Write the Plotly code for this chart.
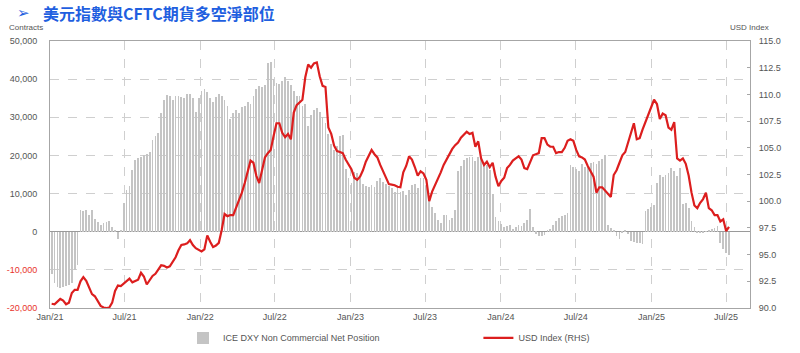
import pandas as pd
import plotly.graph_objects as go

# weekly dates (COT reports)
dates = pd.date_range("2021-01-05", periods=236, freq="7D")

net_position = [
    -11000, -13500, -14500, -14800, -14500, -14300, -14000, -13500, -10000, -8600,
    5800, 5400, 5800, 4300, 5800, 3300, 2600, 1800, 2200, 2500,
    2700, 1200, 500, -2000, 200, 7600, 11000, 12000, 16300, 18800,
    19300, 19500, 20000, 20500, 21000, 24000, 25000, 26000, 31000, 34500,
    35800, 35500, 34500, 35500, 35500, 35300, 35000, 36000, 36000, 35000,
    31300, 35000, 37000, 37500, 36500, 35000, 34000, 35300, 36000, 35500,
    34500, 33000, 29600, 31000, 32000, 31000, 32600, 33000, 34000, 33500,
    35500, 37300, 38300, 37900, 38500, 44200, 44600, 40000, 38900, 38800,
    39500, 40500, 39500, 38500, 37000, 35500, 35500, 33000, 33500, 27800,
    30500, 32000, 32500, 31500, 30000, 28500, 25500, 23000, 21500, 22500,
    25000, 25300, 16500, 14000, 12700, 15700, 15300, 14000, 12500, 12000,
    11800, 12300, 11800, 13200, 14000, 13000, 12500, 12000, 11400, 10500,
    11800, 10500, 10800, 9500, 11000, 12300, 12500, 11500, 14200, 14000,
    12000, 9200, 6600, 5000, 3000, 2200, 4500, 4400, 3100, 3500,
    5700, 15800, 17300, 18700, 19200, 19600, 19600, 18500, 19500, 19000,
    18000, 17500, 16200, 10000, 3800, 2800, 2000, 1200, 1400, 1800,
    600, 1200, 1800, 1400, 2200, 3000, 6000, 1200, -500, -1200,
    -1200, -800, 400, 600, 1700, 2700, 3600, 4000, 4500, 5000,
    17600, 17000, 16500, 16000, 17800, 17000, 17000, 18000, 18200, 17800,
    18500, 19000, 20000, 1700, 900, 300, -1100, -2000, -300, 300,
    -700, -2400, -2800, -2900, -3000, -3300, 5500, 5900, 6500, 7000,
    12900, 14800, 14300, 14800, 15300, 16600, 16000, 14600, 16700, 7200,
    7500, 6200, 2800, 1200, -400, -400, -300, 100, 300, 600,
    1000, 1500, -2900, -4600, -5500, -6000,
]

usd_index = [
    90.4, 90.35, 90.6, 90.85, 90.7, 90.35, 90.5, 91.4, 91.7, 91.7,
    92.5, 92.9, 92.55, 91.9, 91.3, 91.1, 90.6, 90.2, 90.05, 90.0,
    90.05, 90.5, 91.6, 92.1, 92.05, 92.3, 92.55, 92.75, 92.4, 92.5,
    92.65, 93.3, 92.95, 92.2, 92.55, 93.0, 93.2, 93.6, 94.0, 93.95,
    93.8, 93.9, 94.3, 94.75, 95.4, 95.9, 95.95, 96.05, 96.35, 95.9,
    95.6, 95.45, 95.3, 95.5, 96.8, 96.2, 95.7, 95.85, 96.1, 97.3,
    98.8, 98.6, 98.7, 98.7, 99.4, 100.1, 100.8, 101.7, 102.9, 103.8,
    103.6, 102.4, 101.7, 103.0, 104.1, 104.5, 104.8, 106.1, 107.3, 107.3,
    106.4, 106.0, 106.3, 105.8, 108.3, 109.0, 109.3, 109.5, 111.6, 112.8,
    112.5, 112.9, 113.0, 111.7, 110.8, 110.7, 106.9, 106.3, 105.2, 104.7,
    104.6, 104.5, 103.9, 103.4, 103.0, 102.2, 102.0, 102.3, 102.9, 103.7,
    104.3, 104.8, 104.4, 104.1, 103.4, 102.8, 102.2, 101.6, 101.55, 101.5,
    101.35, 101.3, 102.7, 103.3, 104.2, 103.9, 103.2, 102.4, 102.8, 102.6,
    102.0, 100.0, 100.9, 101.5, 102.0, 102.7, 103.4, 103.95, 104.4, 104.9,
    105.25, 105.5, 105.95, 106.2, 106.5, 106.3, 106.4, 105.1, 105.6, 104.0,
    103.4, 103.7, 103.2, 103.6, 102.3, 101.4, 101.9, 102.2, 103.1, 103.4,
    103.8, 104.0, 104.2, 103.9, 103.1, 103.0, 103.7, 104.3, 104.4, 104.5,
    105.9, 105.9, 105.3, 105.1, 105.1, 104.5, 104.6, 104.6, 105.0, 105.65,
    105.8, 105.65, 104.8, 104.2, 104.1, 103.9, 103.3, 102.8, 102.3, 100.8,
    101.3, 101.3, 101.0, 100.8, 100.4, 102.45, 102.9, 103.6, 104.3, 104.6,
    105.5, 106.5, 107.3, 105.8, 105.9, 106.7, 107.4, 108.1, 108.7, 109.5,
    109.1, 107.7, 108.2, 108.05, 106.9, 106.7, 107.4, 104.0, 103.8, 104.0,
    103.5, 102.4, 100.8, 99.6, 99.35, 99.85, 100.2, 100.8, 99.35, 99.15,
    98.7, 98.7, 98.1, 98.3, 97.2, 97.6,
]

x_tick_vals = ["2021-01-01", "2021-07-01", "2022-01-01", "2022-07-01", "2023-01-01",
               "2023-07-01", "2024-01-01", "2024-07-01", "2025-01-01", "2025-07-01"]
x_tick_text = ["Jan/21", "Jul/21", "Jan/22", "Jul/22", "Jan/23",
               "Jul/23", "Jan/24", "Jul/24", "Jan/25", "Jul/25"]
left_tick_vals = [-20000, -10000, 0, 10000, 20000, 30000, 40000, 50000]
right_tick_vals = [90, 92.5, 95, 97.5, 100, 102.5, 105, 107.5, 110, 112.5, 115]

def fmt_left(v):
    s = f"{v:,}"
    if v < 0:
        return f'<span style="color:#e8332c">{s}</span>'
    return s

left_tick_text = [fmt_left(v) for v in left_tick_vals]

FONT = "Liberation Sans"
GRAY = "#555555"

fig = go.Figure()
fig.add_trace(go.Bar(
    x=dates, y=net_position, name="ICE DXY Non Commercial Net Position",
    marker=dict(color="#c4c4c4", line=dict(width=0)),
    width=1.9 * 86400000, yaxis="y", legend="legend",
))
fig.add_trace(go.Scatter(
    x=dates, y=usd_index, name="USD Index (RHS)", mode="lines",
    line=dict(color="#dc1e1e", width=2.2), yaxis="y2", legend="legend2",
))

legend_common = dict(orientation="h", xanchor="left", y=-0.112, yanchor="middle",
                     font=dict(size=9, color=GRAY), itemwidth=30,
                     bgcolor="rgba(0,0,0,0)")

fig.update_layout(
    width=800, height=353,
    margin=dict(l=50, r=50, t=41, b=45, autoexpand=False),
    paper_bgcolor="white", plot_bgcolor="white",
    font=dict(family=FONT, size=9, color=GRAY),
    bargap=0,
    showlegend=True,
    legend=dict(x=0.19, **legend_common),
    legend2=dict(x=0.612, **legend_common),
    xaxis=dict(type="date", range=["2021-01-01", "2025-08-28"],
               tickvals=x_tick_vals, ticktext=x_tick_text, ticks="", tickangle=0,
               showgrid=True, gridcolor="#cfcfcf", griddash="dash", gridwidth=1,
               showline=True, linecolor="#a6a6a6", linewidth=1, mirror=True,
               tickfont=dict(size=9, color=GRAY)),
    yaxis=dict(range=[-20000, 50000], tickvals=left_tick_vals, ticktext=left_tick_text,
               showgrid=True, gridcolor="#cfcfcf", griddash="dash", gridwidth=1,
               zeroline=True, zerolinecolor="#9a9a9a", zerolinewidth=1,
               showline=True, linecolor="#a6a6a6", linewidth=1, mirror=True,
               ticks="", ticklabelstandoff=10,
               tickfont=dict(size=9, color=GRAY)),
    yaxis2=dict(range=[90, 115], tickvals=right_tick_vals, tickformat=".1f",
                overlaying="y", side="right", showgrid=False, zeroline=False,
                ticks="inside", ticklen=3, tickcolor="#a6a6a6",
                showline=True, linecolor="#a6a6a6", ticklabelstandoff=6,
                tickfont=dict(size=9, color=GRAY)),
    annotations=[
        dict(text="➢", x=-0.05, y=1.105, xref="paper", yref="paper",
             xanchor="left", yanchor="middle", showarrow=False,
             font=dict(family="DejaVu Sans", size=15, color="#1f5fe0")),
        dict(text="<b>美元指數與CFTC期貨多空淨部位</b>", x=-0.013, y=1.105, xref="paper", yref="paper",
             xanchor="left", yanchor="middle", showarrow=False,
             font=dict(family="Noto Sans CJK TC", size=16, color="#1f5fe0")),
        dict(text="Contracts", x=-0.062, y=1.052, xref="paper", yref="paper",
             xanchor="left", yanchor="middle", showarrow=False,
             font=dict(size=8, color=GRAY)),
        dict(text="USD Index", x=0.968, y=1.052, xref="paper", yref="paper",
             xanchor="left", yanchor="middle", showarrow=False,
             font=dict(size=8, color=GRAY)),
    ],
)

fig.write_html("out.html")
